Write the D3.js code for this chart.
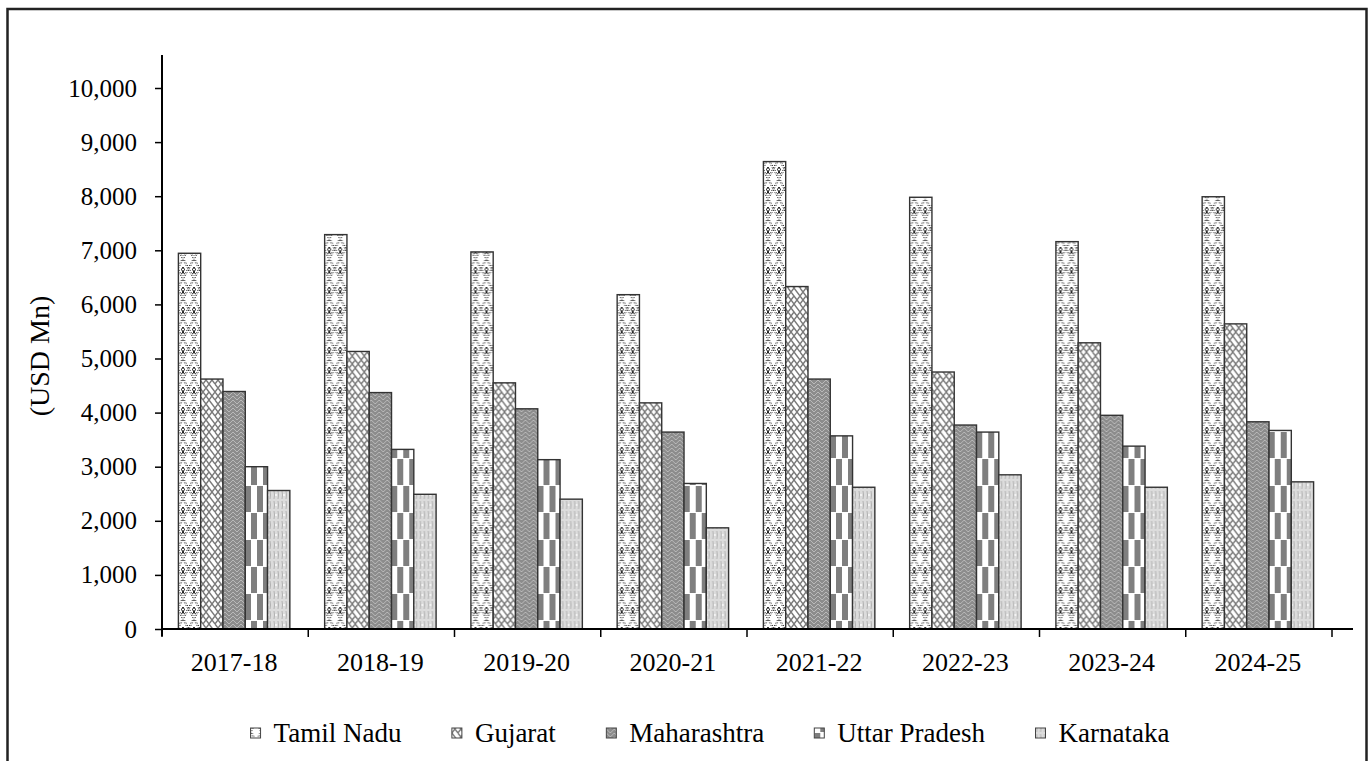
<!DOCTYPE html>
<html>
<head>
<meta charset="utf-8">
<script src="https://cdn.jsdelivr.net/npm/d3@7"></script>
<style>
  html, body { margin: 0; padding: 0; background: #fff; }
  svg { display: block; font-family: "Liberation Serif", serif; }
</style>
</head>
<body>
<svg width="1369" height="761"></svg>
<script>
// data
const years = ["2017-18", "2018-19", "2019-20", "2020-21", "2021-22", "2022-23", "2023-24", "2024-25"];
const states = ["Tamil Nadu", "Gujarat", "Maharashtra", "Uttar Pradesh", "Karnataka"];
const tamilNadu    = [6945, 7290, 6970, 6180, 8640, 7980, 7160, 7990];
const gujarat      = [4620, 5130, 4550, 4180, 6330, 4750, 5290, 5640];
const maharashtra  = [4390, 4370, 4070, 3640, 4620, 3770, 3950, 3830];
const uttarPradesh = [3000, 3320, 3130, 2690, 3570, 3640, 3380, 3670];
const karnataka    = [2560, 2490, 2400, 1870, 2620, 2850, 2620, 2720];
const yTicks = [0, 1000, 2000, 3000, 4000, 5000, 6000, 7000, 8000, 9000, 10000];

const seriesValues = [tamilNadu, gujarat, maharashtra, uttarPradesh, karnataka];
const rows = years.map((y, i) => ({
  year: y,
  vals: states.map((s, k) => ({ state: s, k: k, v: seriesValues[k][i] }))
}));

const svg = d3.select("svg");

// ---- fill patterns (black & white print look)
const defs = svg.append("defs");

// Tamil Nadu : dotted diamond lattice on white
let p = defs.append("pattern").attr("id", "pat0").attr("patternUnits", "userSpaceOnUse")
  .attr("width", 11).attr("height", 20);
p.append("rect").attr("width", 11).attr("height", 20).attr("fill", "#fff");
p.append("path").attr("d", "M0,0 L11,20 M11,0 L0,20 M1.5,0 L12.5,20 M9.5,0 L-1.5,20")
  .attr("stroke", "#000").attr("stroke-width", 0.8).attr("stroke-dasharray", "1.2,1.6").attr("fill", "none");
p.append("path").attr("d", "M0,7 L1.5,9.5 L0,12 L1.5,14 M11,7 L9.5,9.5 L11,12 L9.5,14")
  .attr("stroke", "#000").attr("stroke-width", 1).attr("fill", "none");

// Gujarat : grey weave on white
p = defs.append("pattern").attr("id", "pat1").attr("patternUnits", "userSpaceOnUse")
  .attr("width", 12).attr("height", 16);
p.append("rect").attr("width", 12).attr("height", 16).attr("fill", "#fff");
p.append("path").attr("d", "M0,0 L12,16 M12,0 L0,16 M-3,4 L6,16 M6,0 L15,12 M3,-4 L-6,8 M15,4 L6,16")
  .attr("stroke", "#7a7a7a").attr("stroke-width", 1.4).attr("fill", "none");

// Maharashtra : herringbone on mid grey
p = defs.append("pattern").attr("id", "pat2").attr("patternUnits", "userSpaceOnUse")
  .attr("width", 8).attr("height", 8);
p.append("rect").attr("width", 8).attr("height", 8).attr("fill", "#8c8c8c");
p.append("path").attr("d", "M0,0 L4,4 M0,4 L4,8 M4,4 L8,0 M4,8 L8,4")
  .attr("stroke", "#c4c4c4").attr("stroke-width", 0.8).attr("fill", "none");

// Uttar Pradesh : tall checker of grey / white
p = defs.append("pattern").attr("id", "pat3").attr("patternUnits", "userSpaceOnUse")
  .attr("width", 12).attr("height", 54);
p.append("rect").attr("width", 12).attr("height", 54).attr("fill", "#fff");
p.append("rect").attr("x", 0).attr("y", 0).attr("width", 6).attr("height", 26).attr("fill", "#7f7f7f");
p.append("rect").attr("x", 6).attr("y", 27).attr("width", 6).attr("height", 26).attr("fill", "#7f7f7f");

// Karnataka : light grey with faint waves
p = defs.append("pattern").attr("id", "pat4").attr("patternUnits", "userSpaceOnUse")
  .attr("width", 8).attr("height", 10);
p.append("rect").attr("width", 8).attr("height", 10).attr("fill", "#dcdcdc");
p.append("path").attr("d", "M1,1 Q2,5 1,9 M5,1 Q6,5 5,9")
  .attr("stroke", "#aaaaaa").attr("stroke-width", 0.9).attr("fill", "none");
p.append("circle").attr("cx", 3).attr("cy", 5).attr("r", 0.9).attr("fill", "#fff");

// ---- frame
svg.append("rect").attr("x", 7.5).attr("y", 9).attr("width", 1359).attr("height", 770)
  .attr("fill", "none").attr("stroke", "#222").attr("stroke-width", 2.5);

// ---- scales
const x0 = d3.scaleBand().domain(years).range([161, 1331]).paddingInner(0).paddingOuter(0);
const groupPad = 17.4;
const x1 = d3.scaleBand().domain(d3.range(states.length))
  .range([groupPad, x0.bandwidth() - groupPad]).padding(0);
const y = d3.scaleLinear().domain([0, 10000]).range([629, 88]);

// ---- bars
const g = svg.append("g");
g.selectAll(".grp")
  .data(rows)
  .enter()
  .append("g")
  .classed("grp", true)
  .attr("transform", d => `translate(${x0(d.year)},0)`)
  .selectAll("rect")
  .data(d => d.vals)
  .enter()
  .append("rect")
  .attr("x", d => x1(d.k))
  .attr("y", d => y(d.v))
  .attr("width", x1.bandwidth())
  .attr("height", d => y(0) - y(d.v))
  .attr("fill", d => `url(#pat${d.k})`)
  .attr("stroke", "#333")
  .attr("stroke-width", 1.4);

// ---- y axis
const yAxis = svg.append("g")
  .attr("transform", `translate(${x0.range()[0] + 1},0)`)
  .call(d3.axisLeft(y).tickValues(yTicks).tickFormat(d3.format(",")).tickSize(7).tickPadding(18));
yAxis.select(".domain").remove();
yAxis.selectAll("line").attr("stroke", "#000").attr("stroke-width", 1.5);
yAxis.selectAll("text").attr("font-size", 25).attr("fill", "#000").attr("font-family", "Liberation Serif");
svg.append("line")
  .attr("x1", x0.range()[0] + 1).attr("x2", x0.range()[0] + 1)
  .attr("y1", y(0) + 7).attr("y2", y(10000) - 33)
  .attr("stroke", "#000").attr("stroke-width", 2);

// ---- x axis
svg.append("line")
  .attr("x1", x0.range()[0]).attr("x2", x0.range()[1] + 22)
  .attr("y1", y(0)).attr("y2", y(0))
  .attr("stroke", "#000").attr("stroke-width", 2.2);
const bounds = years.map(d => x0(d)).concat([x0.range()[1]]);
svg.selectAll(".xtick")
  .data(bounds)
  .enter()
  .append("line")
  .classed("xtick", true)
  .attr("x1", d => d + 1).attr("x2", d => d + 1)
  .attr("y1", y(0)).attr("y2", y(0) + 8)
  .attr("stroke", "#000").attr("stroke-width", 1.5);
svg.selectAll(".xlab")
  .data(years)
  .enter()
  .append("text")
  .classed("xlab", true)
  .attr("x", d => x0(d) + x0.bandwidth() / 2)
  .attr("y", y(0) + 42)
  .attr("text-anchor", "middle")
  .attr("font-size", 26)
  .text(d => d);

// ---- y title
svg.append("text")
  .attr("transform", "translate(49,356) rotate(-90)")
  .attr("text-anchor", "middle")
  .attr("font-size", 28)
  .text("(USD Mn)");

// ---- legend
const legend = svg.append("g").attr("transform", "translate(0,733)");
const items = legend.selectAll("g")
  .data(states)
  .enter()
  .append("g");
items.append("rect")
  .attr("x", 0).attr("y", -5).attr("width", 10).attr("height", 10)
  .attr("fill", (d, i) => `url(#pat${i})`)
  .attr("stroke", "#444").attr("stroke-width", 1);
items.append("text")
  .attr("x", 23).attr("y", 9)
  .attr("font-size", 27)
  .text(d => d);
// spread entries from text widths, centred in the frame
const gaps = 50;
let widths = [];
items.each(function() { widths.push(this.getBBox().width); });
const total = d3.sum(widths) + gaps * (widths.length - 1);
let cx = 710 - total / 2;
items.attr("transform", (d, i) => {
  const t = `translate(${cx},0)`;
  cx += widths[i] + gaps;
  return t;
});
</script>
</body>
</html>
